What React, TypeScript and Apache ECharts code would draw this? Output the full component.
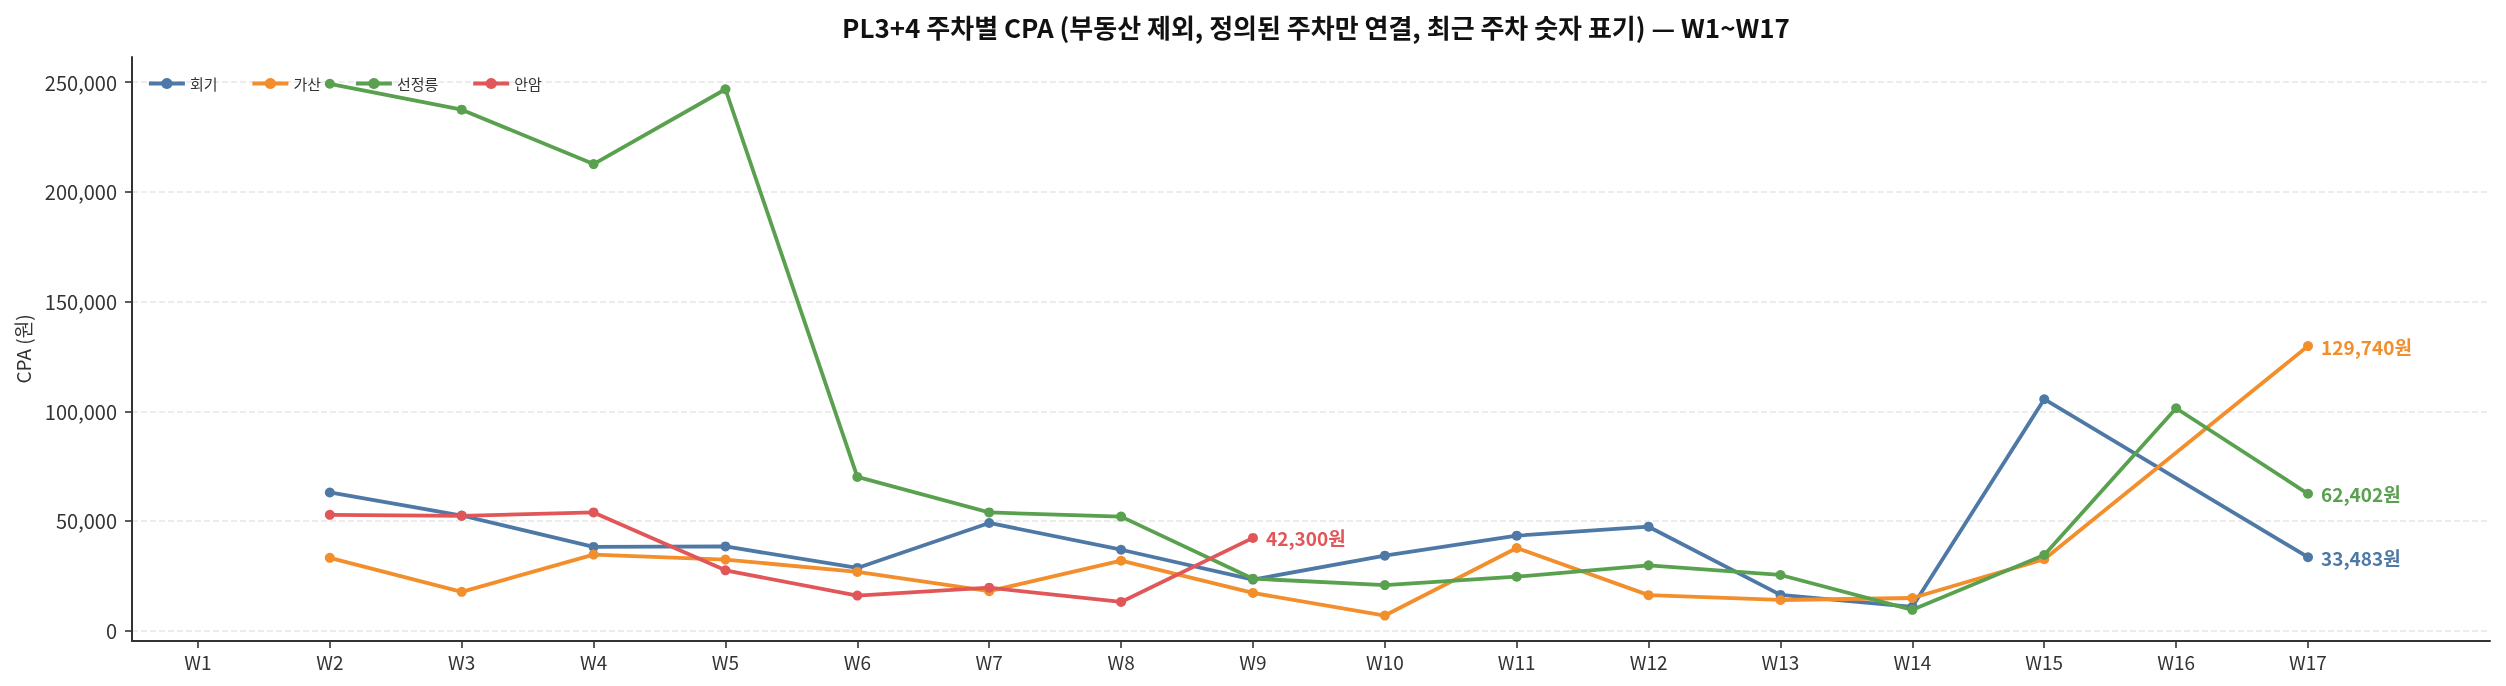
import React, { useEffect, useRef } from "react";
import * as echarts from "echarts";

const weeks = ["W1", "W2", "W3", "W4", "W5", "W6", "W7", "W8", "W9", "W10", "W11", "W12", "W13", "W14", "W15", "W16", "W17"];
const seriesNames = ["회기", "가산", "선정릉", "안암"];
const hoegi = [null, 63000, 52500, 38200, 38400, 28600, 49100, 36900, 23300, 34200, 43300, 47400, 16300, 10900, 105500, null, 33483];
const gasan = [null, 33200, 17700, 34700, 32400, 26800, 18000, 31900, 17200, 6900, 37700, 16200, 14000, 14900, 32600, null, 129740];
const seonjeongneung = [null, 249300, 237500, 212700, 246800, 70100, 53900, 52000, 23700, 20800, 24600, 29800, 25400, 9500, 34500, 101400, 62402];
const anam = [null, 52800, 52300, 53900, 27500, 16000, 19600, 13100, 42300, null, null, null, null, null, null, null, null];
const colors = ["#4e79a7", "#f28e2b", "#59a14f", "#e15759"];
const yTicks = [0, 50000, 100000, 150000, 200000, 250000];
const title = "PL3+4 주차별 CPA (부동산 제외, 정의된 주차만 연결, 최근 주차 숫자 표기) — W1~W17";
const yName = "CPA (원)";

const FONT = "'Noto Sans CJK KR', 'Noto Sans', sans-serif";

export default function App() {
  const ref = useRef<HTMLDivElement>(null);
  useEffect(() => {
    const chart = echarts.init(ref.current!, null, { renderer: "svg" });
    const all = [hoegi, gasan, seonjeongneung, anam];
    const weekIdx = weeks.map((_, i) => i);
    const series = all.map((vals, si) => {
      const pts = vals
        .map((v, i) => (v == null ? null : [i, v]))
        .filter((p) => p !== null) as number[][];
      const last = pts.length - 1;
      return {
        name: seriesNames[si],
        type: "line",
        data: pts.map((p, k) =>
          k === last
            ? {
                value: p,
                label: {
                  show: true,
                  position: "right",
                  distance: 8,
                  formatter: () => p[1].toLocaleString("en-US") + "원",
                  color: colors[si],
                  fontWeight: "bold",
                  fontSize: 19,
                  fontFamily: FONT,
                },
              }
            : p
        ),
        color: colors[si],
        symbol: "circle",
        symbolSize: 10,
        showSymbol: true,
        lineStyle: { width: 3.8, color: colors[si] },
        itemStyle: { color: colors[si] },
        emphasis: { disabled: true },
      };
    });
    chart.setOption({
      animation: false,
      textStyle: { fontFamily: FONT },
      title: {
        text: title,
        left: 1311,
        textAlign: "center",
        top: 8,
        textStyle: { fontSize: 26, fontWeight: "bold", color: "#111", fontFamily: FONT },
      },
      legend: {
        left: 142,
        top: 71,
        itemWidth: 36,
        itemHeight: 14,
        itemGap: 33,
        lineStyle: { width: 3.8 },
        textStyle: { fontSize: 15, color: "#333", fontFamily: FONT },
        data: seriesNames,
      },
      grid: { left: 132, right: 16, top: 57, bottom: 45, containLabel: false },
      xAxis: {
        type: "value",
        min: -0.5,
        max: 17.38,
        axisLine: { show: true, onZero: false, lineStyle: { color: "#333", width: 2 } },
        axisTick: { show: true, length: 7, lineStyle: { color: "#333", width: 1.6 }, customValues: weekIdx },
        axisLabel: {
          customValues: weekIdx,
          formatter: (v: number) => weeks[Math.round(v)] ?? "",
          fontSize: 19,
          color: "#333",
          margin: 11,
          fontFamily: FONT,
        },
        splitLine: { show: false },
      },
      yAxis: {
        type: "value",
        min: -4700,
        max: 261500,
        name: yName,
        nameLocation: "middle",
        nameGap: 100,
        nameRotate: 90,
        nameTextStyle: { fontSize: 19, color: "#333", fontFamily: FONT },
        axisLine: { show: true, onZero: false, lineStyle: { color: "#333", width: 2 } },
        axisTick: { show: true, length: 7, lineStyle: { color: "#333", width: 1.6 }, customValues: yTicks },
        axisLabel: {
          customValues: yTicks,
          formatter: (v: number) => v.toLocaleString("en-US"),
          fontSize: 20,
          color: "#333",
          margin: 15,
          fontFamily: FONT,
        },
        splitLine: { show: true, lineStyle: { color: "#e6e6e6", width: 1.5, type: [6, 3] } },
      },
      series,
    });
    return () => chart.dispose();
  }, []);
  return <div ref={ref} style={{ position: "fixed", left: 0, top: 0, width: 2506, height: 686 }} />;
}
